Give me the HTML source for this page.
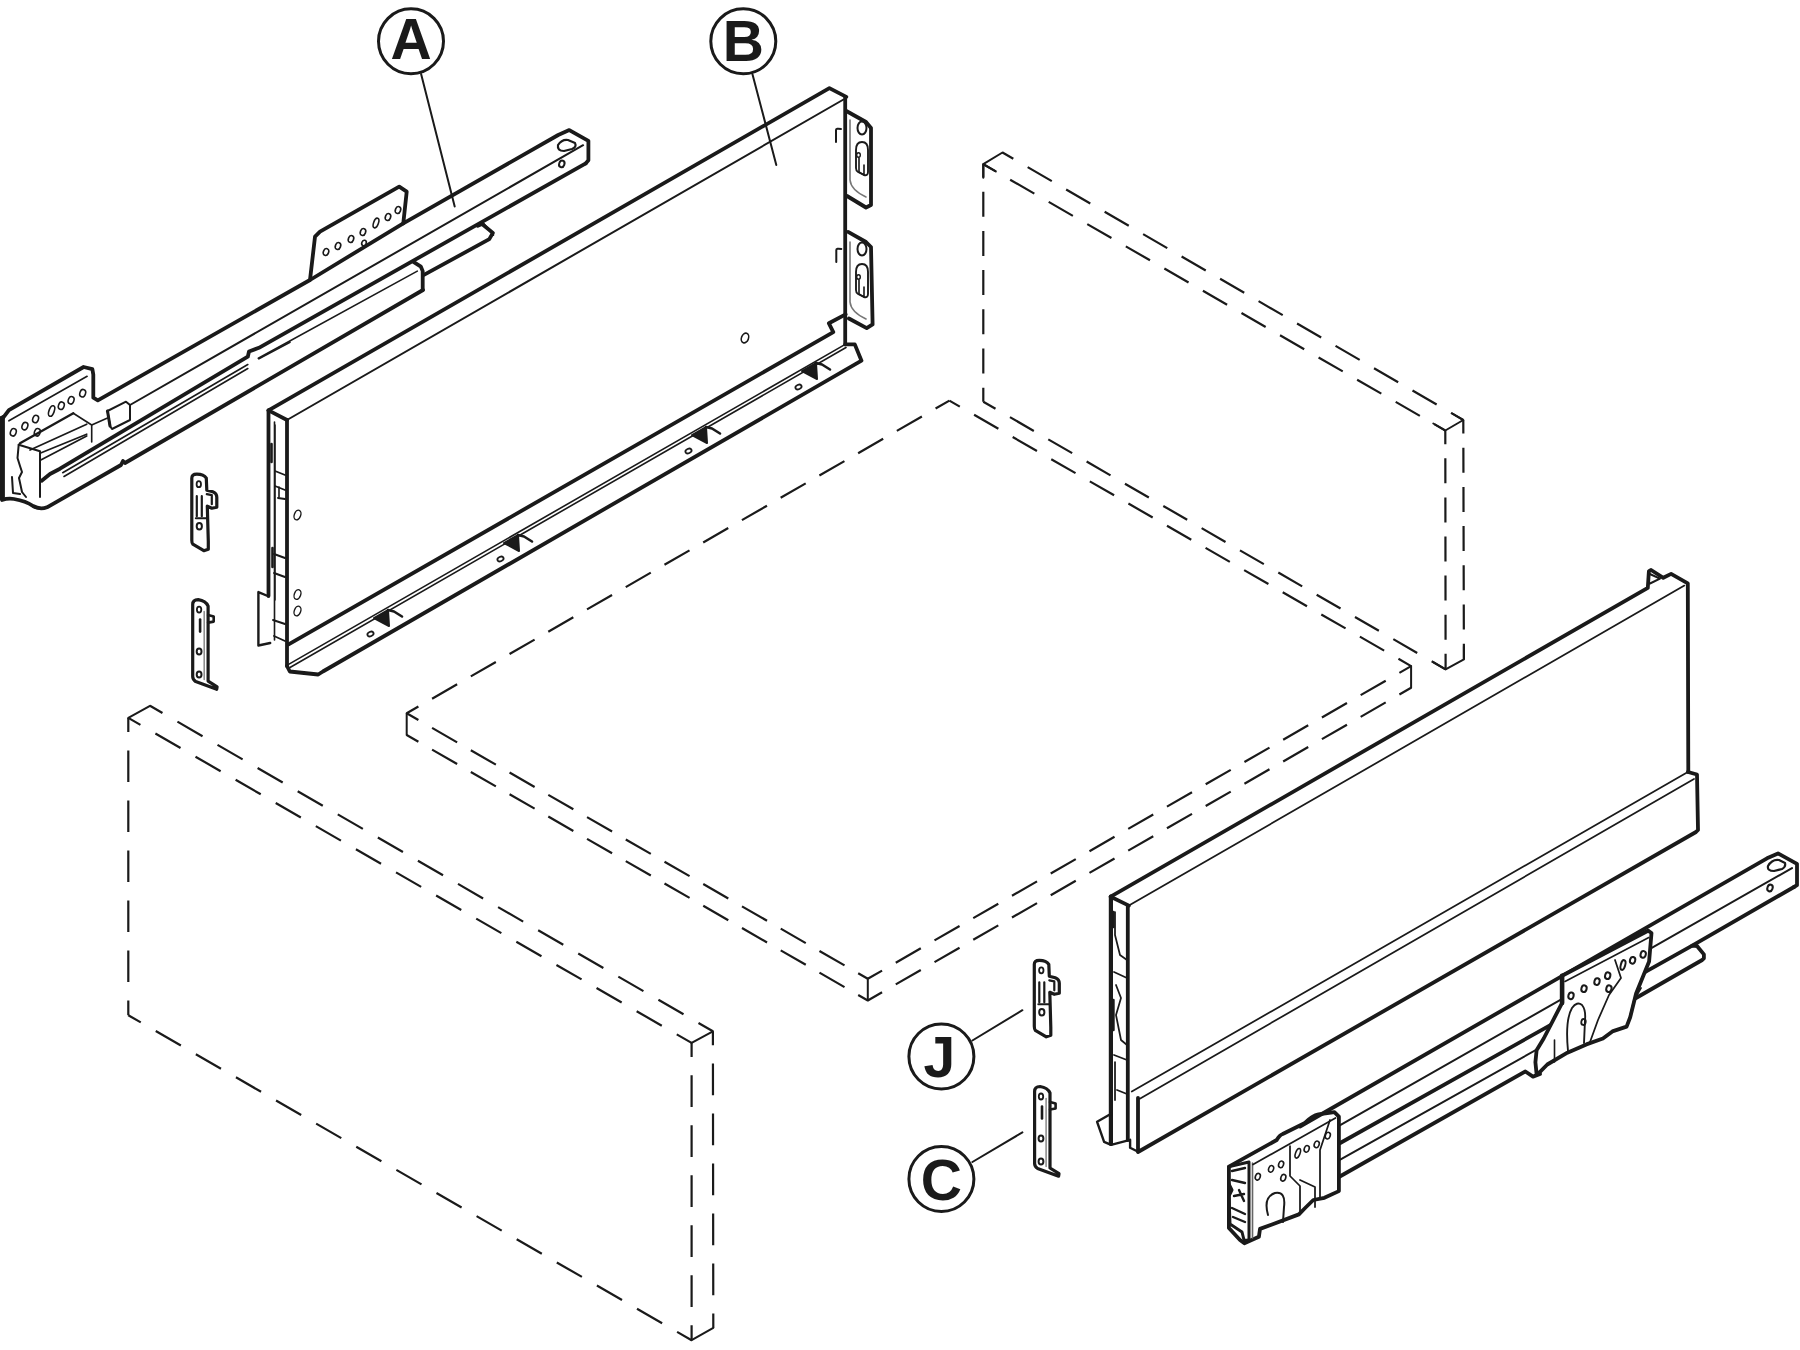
<!DOCTYPE html>
<html><head><meta charset="utf-8"><style>
html,body{margin:0;padding:0;background:#fff;}
svg{display:block;}
</style></head><body>
<svg width="1800" height="1350" viewBox="0 0 1800 1350">
<rect width="1800" height="1350" fill="#fff"/>
<g fill="none" stroke="#1a1a1a" stroke-linecap="round" stroke-linejoin="round">
<polyline points="983.3,177.7 983.3,164.2 995.8,171.4" stroke-width="2.0" />
<polyline points="995.8,171.4" stroke-width="2.0" />
<line x1="983.3" y1="164.2" x2="1002.5" y2="152.5" stroke-width="2.0" />
<line x1="1002.5" y1="152.5" x2="1463.3" y2="420.0" stroke-width="2.2" stroke-dasharray="27.9 16.6" stroke-dashoffset="15.399999999999999" stroke-linecap="butt"/>
<line x1="983.3" y1="164.2" x2="1445.3" y2="430.5" stroke-width="2.2" stroke-dasharray="27.9 16.6" stroke-dashoffset="13.499999999999998" stroke-linecap="butt"/>
<polyline points="1433.3,423.5 1445.3,430.5 1463.3,420.0 1452.3,413.5" stroke-width="2.0" />
<line x1="1445.3" y1="430.5" x2="1445.6" y2="669.4" stroke-width="2.2" stroke-dasharray="25 14.1" stroke-dashoffset="11.3" stroke-linecap="butt"/>
<line x1="1463.3" y1="420.0" x2="1463.9" y2="659.4" stroke-width="2.2" stroke-dasharray="25 14.2" stroke-dashoffset="11.5" stroke-linecap="butt"/>
<line x1="983.3" y1="164.2" x2="983.3" y2="401.7" stroke-width="2.2" stroke-dasharray="25 14.2" stroke-dashoffset="11.7" stroke-linecap="butt"/>
<line x1="983.3" y1="401.7" x2="1445.6" y2="669.4" stroke-width="2.2" stroke-dasharray="27.6 16.7" stroke-dashoffset="13.500000000000002" stroke-linecap="butt"/>
<polyline points="1433.6,662.4 1445.6,669.4 1463.9,659.4 1463.9,646.4" stroke-width="2.0" />
<line x1="406.7" y1="713.3" x2="949.4" y2="400.6" stroke-width="2.2" stroke-dasharray="28.9 15.8" stroke-dashoffset="15.399999999999999" stroke-linecap="butt"/>
<line x1="949.4" y1="400.6" x2="1411.1" y2="666.1" stroke-width="2.2" stroke-dasharray="28 16.5" stroke-dashoffset="16" stroke-linecap="butt"/>
<line x1="1411.1" y1="666.1" x2="867.8" y2="978.8" stroke-width="2.2" stroke-dasharray="28.9 15.8" stroke-dashoffset="15.399999999999999" stroke-linecap="butt"/>
<line x1="406.7" y1="713.3" x2="867.8" y2="978.8" stroke-width="2.2" stroke-dasharray="28.9 15.8" stroke-dashoffset="15.399999999999999" stroke-linecap="butt"/>
<line x1="406.7" y1="735.0" x2="867.8" y2="1000.5" stroke-width="2.2" stroke-dasharray="28.9 15.8" stroke-dashoffset="15.399999999999999" stroke-linecap="butt"/>
<line x1="1411.1" y1="687.8" x2="867.8" y2="1000.5" stroke-width="2.2" stroke-dasharray="28.9 15.8" stroke-dashoffset="15.399999999999999" stroke-linecap="butt"/>
<line x1="406.7" y1="713.3" x2="406.7" y2="735.0" stroke-width="2.0" />
<line x1="1411.1" y1="666.1" x2="1411.1" y2="687.8" stroke-width="2.0" />
<line x1="867.8" y1="978.8" x2="867.8" y2="1000.5" stroke-width="2.0" />
<line x1="128.3" y1="717.9" x2="150.0" y2="705.8" stroke-width="2.0" />
<line x1="150.0" y1="705.8" x2="712.9" y2="1031.3" stroke-width="2.2" stroke-dasharray="29 17.3" stroke-dashoffset="14.6" stroke-linecap="butt"/>
<line x1="128.3" y1="717.9" x2="691.6" y2="1042.9" stroke-width="2.2" stroke-dasharray="29 17.3" stroke-dashoffset="15" stroke-linecap="butt"/>
<line x1="691.6" y1="1042.9" x2="712.9" y2="1031.3" stroke-width="2.0" />
<line x1="128.3" y1="717.9" x2="128.3" y2="1015.2" stroke-width="2.2" stroke-dasharray="31.7 18.3" stroke-dashoffset="17.5" stroke-linecap="butt"/>
<line x1="691.6" y1="1042.9" x2="691.6" y2="1340.2" stroke-width="2.2" stroke-dasharray="31.7 18.3" stroke-dashoffset="17.7" stroke-linecap="butt"/>
<line x1="712.9" y1="1031.3" x2="713.3" y2="1327.8" stroke-width="2.2" stroke-dasharray="31.7 18.3" stroke-dashoffset="17.7" stroke-linecap="butt"/>
<line x1="128.3" y1="1015.2" x2="691.6" y2="1340.2" stroke-width="2.2" stroke-dasharray="29 17.3" stroke-dashoffset="14.6" stroke-linecap="butt"/>
<line x1="691.6" y1="1340.2" x2="713.3" y2="1327.8" stroke-width="2.0" />
<circle cx="411" cy="41.3" r="32.5" stroke-width="3.0"/>
<text x="411" y="59.3" font-family="&#39;Liberation Sans&#39;, sans-serif" font-weight="bold" font-size="57" text-anchor="middle" fill="#1a1a1a" stroke="none">A</text>
<line x1="421.1" y1="74.0" x2="454.7" y2="206.6" stroke-width="2.0" />
<circle cx="743.3" cy="41.3" r="32.5" stroke-width="3.0"/>
<text x="743.3" y="61.3" font-family="&#39;Liberation Sans&#39;, sans-serif" font-weight="bold" font-size="57" text-anchor="middle" fill="#1a1a1a" stroke="none">B</text>
<line x1="752.4" y1="74.0" x2="776.3" y2="165.0" stroke-width="2.0" />
<circle cx="941.4" cy="1056.5" r="32.5" stroke-width="3.0"/>
<text x="939.4" y="1077.0" font-family="&#39;Liberation Sans&#39;, sans-serif" font-weight="bold" font-size="57" text-anchor="middle" fill="#1a1a1a" stroke="none">J</text>
<line x1="972.4" y1="1040.5" x2="1022.4" y2="1010.2" stroke-width="2.0" />
<circle cx="941.4" cy="1179" r="32.5" stroke-width="3.0"/>
<text x="941.4" y="1199.5" font-family="&#39;Liberation Sans&#39;, sans-serif" font-weight="bold" font-size="57" text-anchor="middle" fill="#1a1a1a" stroke="none">C</text>
<line x1="972.4" y1="1162.0" x2="1022.4" y2="1132.4" stroke-width="2.0" />
<polyline points="268.5,410.4 829.4,88.1 846.3,96.9" stroke-width="3.8" />
<line x1="287.0" y1="420.0" x2="843.5" y2="99.5" stroke-width="2.0" />
<line x1="268.5" y1="410.4" x2="287.0" y2="420.0" stroke-width="3.8" />
<line x1="268.5" y1="410.4" x2="268.5" y2="596.0" stroke-width="3.8" />
<line x1="287.0" y1="420.0" x2="287.0" y2="666.0" stroke-width="3.8" />
<line x1="845.2" y1="97.0" x2="845.2" y2="344.4" stroke-width="3.8" />
<polyline points="288.6,644.3 833.3,332.2 828.9,323.3 845.6,314.4" stroke-width="3.8" />
<line x1="288.6" y1="664.4" x2="845.2" y2="344.4" stroke-width="1.62" />
<line x1="290.0" y1="667.5" x2="846.0" y2="347.5" stroke-width="1.62" />
<polyline points="287.0,666.0 289.8,671.5 318.2,674.5 322.9,671.5 861.5,360.7 854.8,344.4 845.2,344.4" stroke-width="3.8" />
<polyline points="267.8,596.0 258.4,592.1 258.4,645.5 270.2,643.0" stroke-width="2.4" />
<line x1="275.0" y1="425.0" x2="275.0" y2="600.0" stroke-width="1.5" />
<ellipse cx="297.5" cy="515.0" rx="3.2" ry="5" transform="rotate(20 297.5 515.0)" stroke-width="1.4"/>
<ellipse cx="297.5" cy="594.5" rx="3.2" ry="5" transform="rotate(20 297.5 594.5)" stroke-width="1.4"/>
<ellipse cx="297.5" cy="611.0" rx="3.2" ry="5" transform="rotate(20 297.5 611.0)" stroke-width="1.4"/>
<ellipse cx="745.0" cy="338.0" rx="3.5" ry="5" transform="rotate(20 745.0 338.0)" stroke-width="1.6"/>
<polyline points="846.3,111.0 866.0,122.0 871.0,128.0 871.0,205.0 866.0,207.5 847.0,196.0" stroke-width="3.8" />
<ellipse cx="862.0" cy="128.0" rx="4.5" ry="6.5" transform="rotate(0 862.0 128.0)" stroke-width="2.0"/>
<path d="M850,120 L850,180 Q851,190 866,197" stroke-width="1.62" stroke="#777"/>
<path d="M856,150 q0,-8 6,-8 q6,0 6,8 l0,22 q0,4 -4,3 l-6,-3 q-2,-1 -2,-4 z" stroke-width="1.88" />
<ellipse cx="858.5" cy="155.0" rx="1.8" ry="2.2" transform="rotate(0 858.5 155.0)" stroke-width="1.4"/>
<path d="M859,158 l0,14 l5,3 l0,-10" stroke-width="1.62" />
<polyline points="848.1,231.9 866.0,242.0 871.0,247.0 872.6,324.4 866.7,328.1 848.9,318.5" stroke-width="3.8" />
<ellipse cx="862.0" cy="249.0" rx="4.5" ry="6.5" transform="rotate(0 862.0 249.0)" stroke-width="2.0"/>
<path d="M850,242 L850,302 Q851,312 866,319" stroke-width="1.62" stroke="#777"/>
<path d="M856,272 q0,-8 6,-8 q6,0 6,8 l0,22 q0,4 -4,3 l-6,-3 q-2,-1 -2,-4 z" stroke-width="1.88" />
<ellipse cx="858.5" cy="277.0" rx="1.8" ry="2.2" transform="rotate(0 858.5 277.0)" stroke-width="1.4"/>
<path d="M859,280 l0,14 l5,3 l0,-10" stroke-width="1.62" />
<path d="M836,142 l0,-12 q0,-2 5,-1" stroke-width="2.0" />
<path d="M836.3,262 l0,-12 q0,-2 5,-1" stroke-width="2.0" />
<path d="M374,618 L388,610 L389,626 Z" stroke-width="2.0" fill="#1a1a1a"/>
<path d="M388,610 L394,611.5 L402,616.5" stroke-width="2.6" />
<ellipse cx="370.5" cy="634.0" rx="3.2" ry="2.2" transform="rotate(-25 370.5 634.0)" stroke-width="1.8"/>
<path d="M504,543 L518,535 L519,551 Z" stroke-width="2.0" fill="#1a1a1a"/>
<path d="M518,535 L524,536.5 L532,541.5" stroke-width="2.6" />
<ellipse cx="500.5" cy="559.0" rx="3.2" ry="2.2" transform="rotate(-25 500.5 559.0)" stroke-width="1.8"/>
<path d="M692,435 L706,427 L707,443 Z" stroke-width="2.0" fill="#1a1a1a"/>
<path d="M706,427 L712,428.5 L720,433.5" stroke-width="2.6" />
<ellipse cx="688.5" cy="451.0" rx="3.2" ry="2.2" transform="rotate(-25 688.5 451.0)" stroke-width="1.8"/>
<path d="M802,371 L816,363 L817,379 Z" stroke-width="2.0" fill="#1a1a1a"/>
<path d="M816,363 L822,364.5 L830,369.5" stroke-width="2.6" />
<ellipse cx="798.5" cy="387.0" rx="3.2" ry="2.2" transform="rotate(-25 798.5 387.0)" stroke-width="1.8"/>
<line x1="274.5" y1="422.0" x2="274.5" y2="640.0" stroke-width="1.62" />
<path d="M275,471 L285,475 M275,486 L285,490 M278,498 L285,499 M274,554 L285,558 M274,573 L285,577 M273,620 L285,624 M274,636 L285,641" stroke-width="1.88" />
<path d="M271.5,444 L271.5,462 M272.5,548 L272.5,567" stroke-width="2.6" />
<line x1="279.0" y1="487.0" x2="279.0" y2="497.0" stroke-width="1.62" />
<polyline points="3.6,417.2 8.9,410.1 83.6,367.0 92.4,369.2 93.3,374.6 93.3,397.7 97.8,400.3 104.0,396.8 310.0,280.0 315.0,236.7 320.0,231.7 399.2,186.7 406.7,191.7 403.3,223.3 558.2,135.0 569.3,130.1 588.4,140.8 588.4,160.3 585.8,163.4" stroke-width="3.8" />
<line x1="310.0" y1="280.0" x2="403.3" y2="223.3" stroke-width="3.8" />
<path d="M558,145 Q562,139 568,140 L575,143 Q577,147 572,149 L564,151 Q557,151 558,145 Z" stroke-width="2.2" />
<ellipse cx="561.8" cy="163.9" rx="2.6" ry="3.4" transform="rotate(20 561.8 163.9)" stroke-width="2.0"/>
<line x1="130.0" y1="405.0" x2="583.1" y2="145.2" stroke-width="2.0" />
<polyline points="41.7,480.7 50.0,474.0 60.0,468.7 247.8,356.7 249.0,351.5 258.9,347.8 585.8,163.4" stroke-width="3.8" />
<line x1="62.7" y1="472.7" x2="247.8" y2="364.5" stroke-width="1.62" />
<line x1="64.0" y1="476.5" x2="247.8" y2="368.5" stroke-width="1.62" />
<line x1="258.9" y1="358.9" x2="290.0" y2="342.2" stroke-width="1.62" />
<polyline points="413.8,262.2 420.9,266.7 422.7,271.1 422.7,289.8" stroke-width="3.8" />
<line x1="258.3" y1="358.3" x2="417.3" y2="271.1" stroke-width="1.62" />
<polyline points="477.8,225.8 482.0,224.0 492.9,232.9 489.3,239.1 424.4,274.7" stroke-width="3.8" />
<polyline points="478.2,224.3 483.0,223.0 493.3,235.0" stroke-width="2.0" />
<path d="M1,418 L1,498 M3,417 L3,499" stroke-width="3.8" />
<path d="M2,500 Q8,498 14,499 Q26,501 33,506 Q40,510 47,507.3 L121,465 L123,461 L125,463 L423,290" stroke-width="3.8" />
<polyline points="12.0,477.0 13.0,493.0 20.0,494.0" stroke-width="2.0" />
<polyline points="18.7,444.7 40.0,451.3 40.0,497.0" stroke-width="2.0" />
<polyline points="18.7,444.7 17.5,458.0 20.0,466.0 22.0,472.0 19.0,478.0 22.0,492.0 26.0,497.0" stroke-width="2.0" />
<line x1="30.0" y1="450.0" x2="86.7" y2="424.2" stroke-width="1.75" />
<line x1="40.0" y1="453.3" x2="86.7" y2="434.2" stroke-width="1.75" />
<line x1="40.8" y1="460.0" x2="86.7" y2="436.0" stroke-width="1.75" />
<line x1="20.0" y1="443.3" x2="73.3" y2="413.3" stroke-width="2.4" />
<polyline points="73.3,413.3 91.7,425.0 91.7,442.0" stroke-width="1.62" />
<path d="M107.5,411 L126,401.7 L130,405 L130,420 L112,429 L110,426 Z" stroke-width="2.0" />
<path d="M107.5,411 L110,426" stroke-width="3.0" />
<line x1="91.7" y1="425.0" x2="107.5" y2="418.0" stroke-width="1.62" />
<line x1="8.9" y1="420.8" x2="87.1" y2="376.3" stroke-width="1.62" />
<ellipse cx="13.3" cy="432.3" rx="2.8" ry="3.8" transform="rotate(20 13.3 432.3)" stroke-width="1.6"/>
<ellipse cx="24.9" cy="426.1" rx="2.8" ry="3.8" transform="rotate(20 24.9 426.1)" stroke-width="1.6"/>
<ellipse cx="35.6" cy="419.0" rx="2.8" ry="3.8" transform="rotate(20 35.6 419.0)" stroke-width="1.6"/>
<ellipse cx="37.3" cy="432.3" rx="2.8" ry="3.8" transform="rotate(20 37.3 432.3)" stroke-width="1.6"/>
<ellipse cx="51.6" cy="411.0" rx="2.6" ry="5.5" transform="rotate(20 51.6 411.0)" stroke-width="1.6"/>
<ellipse cx="61.3" cy="405.7" rx="2.8" ry="3.8" transform="rotate(20 61.3 405.7)" stroke-width="1.6"/>
<ellipse cx="71.1" cy="400.3" rx="2.8" ry="3.8" transform="rotate(20 71.1 400.3)" stroke-width="1.6"/>
<ellipse cx="82.7" cy="393.2" rx="2.8" ry="3.8" transform="rotate(20 82.7 393.2)" stroke-width="1.6"/>
<ellipse cx="326.0" cy="252.0" rx="2.6" ry="3.5" transform="rotate(20 326.0 252.0)" stroke-width="1.6"/>
<ellipse cx="338.0" cy="246.0" rx="2.6" ry="3.5" transform="rotate(20 338.0 246.0)" stroke-width="1.6"/>
<ellipse cx="351.0" cy="239.0" rx="2.6" ry="3.5" transform="rotate(20 351.0 239.0)" stroke-width="1.6"/>
<ellipse cx="363.0" cy="232.0" rx="2.6" ry="3.5" transform="rotate(20 363.0 232.0)" stroke-width="1.6"/>
<ellipse cx="364.0" cy="243.0" rx="2.2" ry="2.8" transform="rotate(20 364.0 243.0)" stroke-width="1.6"/>
<ellipse cx="376.0" cy="223.0" rx="2.4" ry="5" transform="rotate(20 376.0 223.0)" stroke-width="1.6"/>
<ellipse cx="388.0" cy="217.0" rx="2.6" ry="3.5" transform="rotate(20 388.0 217.0)" stroke-width="1.6"/>
<ellipse cx="398.0" cy="210.0" rx="2.6" ry="3.5" transform="rotate(20 398.0 210.0)" stroke-width="1.6"/>
<path d="M191.8,478.2 Q191.8,474.2 196.8,474.2 Q203.8,474.2 206.3,478.2 L206.8,490.2 L212.8,491.7 Q216.8,493.2 216.8,497.2 L216.8,507.2 L211.8,508.2 L207.3,506.2 L208.3,541.2 L208.3,549.2 L203.8,550.7 L192.8,544.2 Q191.8,543.2 191.8,540.2 Z" stroke-width="3.2" />
<path d="M196.8,496.2 L196.8,516.2 M201.8,496.2 L201.8,516.2 M206.8,494.2 L211.8,495.2 L211.8,504.2" stroke-width="2.2" />
<path d="M195.8,518.2 L206.8,518.2" stroke-width="2.0" />
<ellipse cx="199.3" cy="526.2" rx="2.6" ry="3.2" transform="rotate(0 199.3 526.2)" stroke-width="2.0"/>
<ellipse cx="198.8" cy="484.2" rx="2.2" ry="3.0" transform="rotate(0 198.8 484.2)" stroke-width="1.8"/>
<path d="M192.7,604.6 Q192.7,599.6 198.2,599.6 Q205.7,600.6 208.1,606.1 L208.1,681.1 L217.1,686.8000000000001 L216.7,689.3000000000001 L195.7,681.6 Q192.7,679.6 192.7,676.6 Z" stroke-width="3.2" />
<path d="M208.1,615.1 L213.7,616.6 L213.7,621.6 L208.1,622.6" stroke-width="2.6" />
<ellipse cx="199.1" cy="609.6" rx="2.2" ry="3" transform="rotate(0 199.1 609.6)" stroke-width="1.8"/>
<path d="M200.1,619.6 L200.1,631.6" stroke-width="2.6" />
<line x1="204.2" y1="611.6" x2="204.2" y2="679.6" stroke-width="1.5" stroke="#888"/>
<ellipse cx="199.1" cy="651.6" rx="2.4" ry="3" transform="rotate(0 199.1 651.6)" stroke-width="2.0"/>
<ellipse cx="199.1" cy="674.6" rx="2.4" ry="3" transform="rotate(0 199.1 674.6)" stroke-width="2.0"/>
<path d="M1034.3,964.3 Q1034.3,960.3 1039.3,960.3 Q1046.3,960.3 1048.8,964.3 L1049.3,976.3 L1055.3,977.8 Q1059.3,979.3 1059.3,983.3 L1059.3,993.3 L1054.3,994.3 L1049.8,992.3 L1050.8,1027.3 L1050.8,1035.3 L1046.3,1036.8 L1035.3,1030.3 Q1034.3,1029.3 1034.3,1026.3 Z" stroke-width="3.2" />
<path d="M1039.3,982.3 L1039.3,1002.3 M1044.3,982.3 L1044.3,1002.3 M1049.3,980.3 L1054.3,981.3 L1054.3,990.3" stroke-width="2.2" />
<path d="M1038.3,1004.3 L1049.3,1004.3" stroke-width="2.0" />
<ellipse cx="1041.8" cy="1012.3" rx="2.6" ry="3.2" transform="rotate(0 1041.8 1012.3)" stroke-width="2.0"/>
<ellipse cx="1041.3" cy="970.3" rx="2.2" ry="3.0" transform="rotate(0 1041.3 970.3)" stroke-width="1.8"/>
<path d="M1034.6,1091.5 Q1034.6,1086.5 1040.1,1086.5 Q1047.6,1087.5 1050.0,1093.0 L1050.0,1168.0 L1059.0,1173.7 L1058.6,1176.2 L1037.6,1168.5 Q1034.6,1166.5 1034.6,1163.5 Z" stroke-width="3.2" />
<path d="M1050.0,1102.0 L1055.6,1103.5 L1055.6,1108.5 L1050.0,1109.5" stroke-width="2.6" />
<ellipse cx="1041.0" cy="1096.5" rx="2.2" ry="3" transform="rotate(0 1041.0 1096.5)" stroke-width="1.8"/>
<path d="M1042.0,1106.5 L1042.0,1118.5" stroke-width="2.6" />
<line x1="1046.1" y1="1098.5" x2="1046.1" y2="1166.5" stroke-width="1.5" stroke="#888"/>
<ellipse cx="1041.0" cy="1138.5" rx="2.4" ry="3" transform="rotate(0 1041.0 1138.5)" stroke-width="2.0"/>
<ellipse cx="1041.0" cy="1161.5" rx="2.4" ry="3" transform="rotate(0 1041.0 1161.5)" stroke-width="2.0"/>
<polyline points="1110.7,896.7 1647.8,587.8 1648.9,571.1 1651.1,570.0 1663.3,577.8 1671.1,573.9 1687.8,583.3 1688.3,772.0" stroke-width="3.8" />
<polyline points="1649.8,574.0 1660.0,578.6 1650.0,583.5" stroke-width="2.0" />
<line x1="1128.9" y1="905.6" x2="1684.4" y2="585.6" stroke-width="1.75" />
<line x1="1110.7" y1="896.7" x2="1128.9" y2="905.6" stroke-width="3.8" />
<line x1="1110.9" y1="896.7" x2="1110.9" y2="1144.0" stroke-width="4.2" />
<line x1="1127.8" y1="905.6" x2="1127.8" y2="1140.0" stroke-width="3.8" />
<line x1="1131.8" y1="1091.6" x2="1687.0" y2="772.5" stroke-width="1.75" />
<line x1="1139.8" y1="1098.7" x2="1694.0" y2="779.0" stroke-width="1.75" />
<polyline points="1688.0,772.0 1697.0,774.5 1698.0,830.0 1696.0,832.0 1138.0,1152.0 1138.0,1097.8" stroke-width="3.8" />
<path d="M1115,912 L1115,935 L1120,955 L1127,960 M1114,972 L1127,978 M1116,985 L1121,998 L1116,1015 L1121,1040 L1127,1045 M1114,1055 L1127,1060 M1115,1062 L1115,1100 M1117,1090 L1127,1094" stroke-width="1.75" />
<path d="M1113.5,912 L1113.5,927 M1113.5,1000 L1113.5,1030" stroke-width="2.4" />
<path d="M1097.1,1121.8 l14,-8 M1097.1,1121.8 l7,20 l7,3 l19,-5 l0,8 l8,4" stroke-width="2.4" />
<polyline points="1300.0,1126.5 1767.0,858.3 1778.0,853.4 1797.0,863.8 1797.0,885.2 1794.0,887.0" stroke-width="3.8" />
<line x1="1340.2" y1="1125.2" x2="1792.0" y2="868.1" stroke-width="2.0" />
<polyline points="1340.2,1143.0 1692.2,945.6 1697.0,946.0 1703.9,954.4 1703.9,958.3 1702.2,960.0 1636.0,998.0" stroke-width="3.8" />
<line x1="1692.2" y1="945.6" x2="1794.0" y2="887.0" stroke-width="3.8" />
<line x1="1340.2" y1="1159.6" x2="1560.0" y2="1036.5" stroke-width="2.0" />
<polyline points="1338.9,1177.0 1525.4,1071.5 1533.0,1076.6 1540.0,1074.0" stroke-width="3.8" />
<path d="M1768,866 Q1772,859 1779,860 L1785,863 Q1786,867 1782,869 L1774,871 Q1767,871 1768,866 Z" stroke-width="2.2" />
<ellipse cx="1770.0" cy="888.0" rx="2.6" ry="3.4" transform="rotate(20 1770.0 888.0)" stroke-width="2.0"/>
<path d="M1228.9,1166.7 L1276.7,1140 q3,-5 6,-6 L1304.4,1123.3 q8,-8 14,-9 L1334.4,1112.2 L1338.9,1116.7 L1338.9,1191.1 L1324.4,1197.8 L1313.3,1200 Q1305,1208 1298.9,1214.4 L1260,1228.9 L1258.9,1236.7 L1244.4,1243.3 L1240,1240 L1228.9,1228 Z" stroke-width="3.8" />
<path d="M1228.5,1166.7 L1249,1162 L1249,1240.5 L1244,1240 L1242,1232 L1236,1228 L1230,1224 L1229,1196 L1232,1190 L1228.5,1183 Z" stroke-width="3.0" />
<path d="M1232,1171 L1245,1168 M1232,1180 L1245,1183 M1239,1190 L1244,1201 M1232,1208 L1245,1214 M1233,1217 L1245,1222 M1234,1196 L1244,1194" stroke-width="2.4" />
<line x1="1252.5" y1="1163.0" x2="1252.5" y2="1238.0" stroke-width="1.62" stroke="#666"/>
<line x1="1253.0" y1="1164.5" x2="1335.5" y2="1118.0" stroke-width="1.75" />
<ellipse cx="1257.8" cy="1176.7" rx="2.4" ry="3.4" transform="rotate(20 1257.8 1176.7)" stroke-width="1.6"/>
<ellipse cx="1271.1" cy="1168.9" rx="2.4" ry="3.4" transform="rotate(20 1271.1 1168.9)" stroke-width="1.6"/>
<ellipse cx="1281.1" cy="1164.4" rx="2.4" ry="3.4" transform="rotate(20 1281.1 1164.4)" stroke-width="1.6"/>
<ellipse cx="1283.3" cy="1177.8" rx="2.4" ry="3.4" transform="rotate(20 1283.3 1177.8)" stroke-width="1.6"/>
<ellipse cx="1297.8" cy="1153.3" rx="2.2" ry="5" transform="rotate(20 1297.8 1153.3)" stroke-width="1.6"/>
<ellipse cx="1306.7" cy="1148.9" rx="2.4" ry="3.4" transform="rotate(20 1306.7 1148.9)" stroke-width="1.6"/>
<ellipse cx="1316.7" cy="1144.4" rx="2.4" ry="3.4" transform="rotate(20 1316.7 1144.4)" stroke-width="1.6"/>
<ellipse cx="1327.8" cy="1135.6" rx="2.4" ry="3.4" transform="rotate(20 1327.8 1135.6)" stroke-width="1.6"/>
<path d="M1268,1215 q-5,-18 7,-22 q11,-2 9,14 l-1,15" stroke-width="2.0" />
<path d="M1290,1146 l0,30 l10,10 l0,25 M1300,1180 l15,7 l0,20 M1330,1120 l-10,30 l0,47" stroke-width="1.75" />
<path d="M1562.1,975.7 L1648,930.7 L1651.5,933 L1649.1,961.5 L1636.1,993.5 L1630.2,1017.2 L1626.6,1026.6 L1612.4,1031.4 L1602.9,1038.5 L1586.4,1044.4 L1567.4,1052.7 L1547.3,1064.5 L1539,1072.8 L1536.6,1074 L1535.4,1062.2 L1536.6,1050.3 L1543.7,1038.5 L1562.1,1002.9 Z" stroke-width="3.8" fill="#fff"/>
<line x1="1562.1" y1="975.7" x2="1562.1" y2="1002.9" stroke-width="4.6" />
<line x1="1565.0" y1="981.5" x2="1648.8" y2="937.5" stroke-width="1.62" />
<ellipse cx="1571.0" cy="995.8" rx="2.6" ry="3.4" transform="rotate(15 1571.0 995.8)" stroke-width="2.0"/>
<ellipse cx="1584.0" cy="988.7" rx="2.6" ry="3.4" transform="rotate(15 1584.0 988.7)" stroke-width="2.0"/>
<ellipse cx="1597.0" cy="981.6" rx="2.6" ry="3.4" transform="rotate(15 1597.0 981.6)" stroke-width="2.0"/>
<ellipse cx="1607.7" cy="975.7" rx="2.6" ry="3.4" transform="rotate(15 1607.7 975.7)" stroke-width="2.0"/>
<ellipse cx="1608.9" cy="988.7" rx="2.6" ry="3.4" transform="rotate(15 1608.9 988.7)" stroke-width="2.0"/>
<ellipse cx="1623.0" cy="965.0" rx="2.2" ry="5" transform="rotate(15 1623.0 965.0)" stroke-width="2.0"/>
<ellipse cx="1632.6" cy="960.3" rx="2.6" ry="3.4" transform="rotate(15 1632.6 960.3)" stroke-width="2.0"/>
<ellipse cx="1643.2" cy="954.4" rx="2.6" ry="3.4" transform="rotate(15 1643.2 954.4)" stroke-width="2.0"/>
<path d="M1568,1051 Q1565,1020 1572,1008 Q1577,1001 1582,1005 Q1586,1010 1585,1020 L1584,1043" stroke-width="1.88" />
<ellipse cx="1583.5" cy="1022.0" rx="2.2" ry="3" transform="rotate(10 1583.5 1022.0)" stroke-width="1.8"/>
<path d="M1615,960 L1621,978 L1609,995 L1598,1020 L1590,1042" stroke-width="1.75" />
<path d="M1641,988 L1634,1000 L1628,1024" stroke-width="1.75" />
<line x1="1554.5" y1="1040.0" x2="1554.5" y2="1062.0" stroke-width="1.62" />
</g></svg></body></html>
